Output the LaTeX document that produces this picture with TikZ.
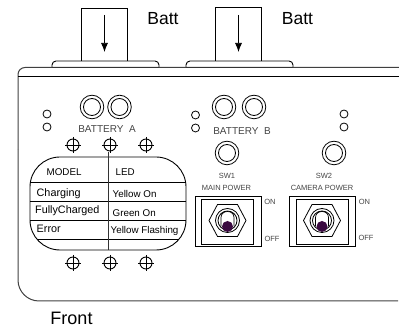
\documentclass[tikz,border=0pt]{standalone}
\usepackage{fontspec}
\usetikzlibrary{arrows.meta}
\setmainfont{Liberation Sans}
\definecolor{knob}{HTML}{3A0A40}
\definecolor{lbl}{HTML}{444444}
\tikzset{
    screw/.pic={
        \draw[line width=0.9pt] (0,0) circle (6);
        \draw[line width=0.8pt] (-8,0) -- (8,0);
        \draw[line width=0.8pt] (0,-8) -- (0,8);
    },
    jack/.pic={
        \draw[line width=0.8pt] (0,0) circle (11.8);
        \draw[line width=0.8pt] (0,0) circle (8.5);
    },
    toggle/.pic={
        \draw[line width=0.8pt] (-18.5,0) -- (-10,-16) -- (10,-16) -- (18.5,0) -- (10,16) -- (-10,16) -- cycle;
        \draw[line width=0.8pt] (0,0) circle (12);
        \draw[line width=0.8pt] (0,0) circle (9.5);
        \draw[line width=0.7pt] (-6.5,6) -- (-6.5,-3) .. controls (-6.5,-11) and (6.5,-11) .. (6.5,-3) -- (6.5,6);
        \fill[knob] (0,6) circle (5.5);
    },
    lamp/.style={draw, circle, line width=0.8pt, minimum size=8pt, inner sep=0pt},
    small/.style={font=\fontsize{7.5}{8}\selectfont, text=lbl, inner sep=0pt},
    panel/.style={font=\fontsize{10}{11}\selectfont, text=lbl, inner sep=0pt},
    cell/.style={font=\fontsize{10.8}{11}\selectfont, inner sep=0pt, anchor=west},
    value/.style={font=\fontsize{9.8}{11}\selectfont, inner sep=0pt, anchor=west},
    title/.style={font=\fontsize{17.5}{18}\selectfont, inner sep=0pt}
}
\begin{document}
\begin{tikzpicture}[x=1pt, y=-1pt]
    \useasboundingbox (0,0) rectangle (399,328);

    % batteries going in
    \coordinate (inA) at (104.5,15);
    \coordinate (inAend) at (104.5,52);
    \coordinate (inB) at (238.5,15);
    \coordinate (inBend) at (238.5,52);
    \draw[line width=0.8pt] (81,61) -- (81,8) -- (127.5,8) -- (127.5,61);
    \draw[line width=0.8pt] (215,61) -- (215,7.5) -- (261.5,7.5) -- (261.5,61);
    \draw[-{Latex[length=9pt,width=7pt]}, line width=0.7pt] (inA) -- (inAend);
    \draw[-{Latex[length=9pt,width=7pt]}, line width=0.7pt] (inB) -- (inBend);
    \node[title] (battA) at (163,19) {Batt};
    \node[title] (battB) at (297.5,19) {Batt};

    % body
    \draw[line width=0.9pt, rounded corners=4pt] (52,67.5) -- (52,61) -- (159,61) -- (159,67.5);
    \draw[line width=0.9pt, rounded corners=4pt] (186,67.5) -- (186,61) -- (293,61) -- (293,67.5);
    \draw[line width=1pt, black!75, rounded corners=7pt] (399,67.5) -- (18,67.5) -- (18,150);
    \draw[line width=1pt, black!75, rounded corners=21pt] (18,150) -- (18,301) -- (398,301);
    \draw[line width=1.4pt, black!80] (52,67.5) -- (159,67.5);
    \draw[line width=1.4pt, black!80] (186,67.5) -- (293,67.5);
    \draw[line width=0.9pt] (18,76) -- (399,76);

    % connectors
    \pic at (92,107) {jack};
    \pic at (119.5,107) {jack};
    \pic at (224,107) {jack};
    \pic at (254,107) {jack};
    \pic at (227,153) {jack};
    \pic at (334,153) {jack};
    \node[panel] (labA) at (107,129) {BATTERY\ \ A};
    \node[panel] (labB) at (242,131) {BATTERY\ \ B};

    % lamps
    \node[lamp] (ledA) at (47,114) {};
    \node[lamp] (ledB) at (47,127) {};
    \node[lamp] (ledC) at (195.5,115) {};
    \node[lamp] (ledD) at (195.5,128) {};
    \node[lamp] (ledE) at (344,114) {};
    \node[lamp] (ledF) at (344,127) {};

    % screws
    \foreach \x in {73,110,146} {
        \pic at (\x,145) {screw};
        \pic at (\x,263) {screw};
    }

    % table
    \draw[line width=0.9pt, rounded corners=30pt] (30,157) rectangle (186,250);
    \begin{scope}
        \clip[rounded corners=30pt] (30,157) rectangle (186,250);
        \foreach \y in {182,201.5,220,239} {
            \draw[line width=0.9pt] (30,\y) -- (186,\y);
        }
    \end{scope}
    \draw[line width=1pt, black!80] (108,152) -- (108,250);
    \node[value] (model) at (46.5,172) {MODEL};
    \node[value] (led) at (115.5,172) {LED};
    \node[cell] (rowA) at (36.5,194) {Charging};
    \node[cell] (rowB) at (35,211) {FullyCharged};
    \node[cell] (rowC) at (36.5,229) {Error};
    \node[value] (valA) at (112.5,194) {Yellow On};
    \node[value] (valB) at (112.5,213) {Green On};
    \node[value] (valC) at (110.5,231) {Yellow Flashing};

    % switches
    \node[small] (swA) at (227,176) {SW1};
    \node[small] (swB) at (324,176) {SW2};
    \node[small] (mainp) at (226.5,188) {MAIN POWER};
    \node[small] (camp) at (322,188) {CAMERA POWER};
    \draw[line width=0.9pt] (195.5,196) rectangle (261,246);
    \draw[line width=0.9pt] (201,199) rectangle (253.5,244);
    \draw[line width=0.9pt] (289,196) rectangle (355,246);
    \draw[line width=0.9pt] (296,199) rectangle (348,244);
    \pic at (227.5,220.5) {toggle};
    \pic at (322,220.5) {toggle};
    \node[small] (onA) at (270,202) {ON};
    \node[small] (offA) at (272,239) {OFF};
    \node[small] (onB) at (364.5,202) {ON};
    \node[small] (offB) at (366,238) {OFF};

    \node[title, font=\fontsize{18}{19}\selectfont] (front) at (71.5,318) {Front};
\end{tikzpicture}
\end{document}
